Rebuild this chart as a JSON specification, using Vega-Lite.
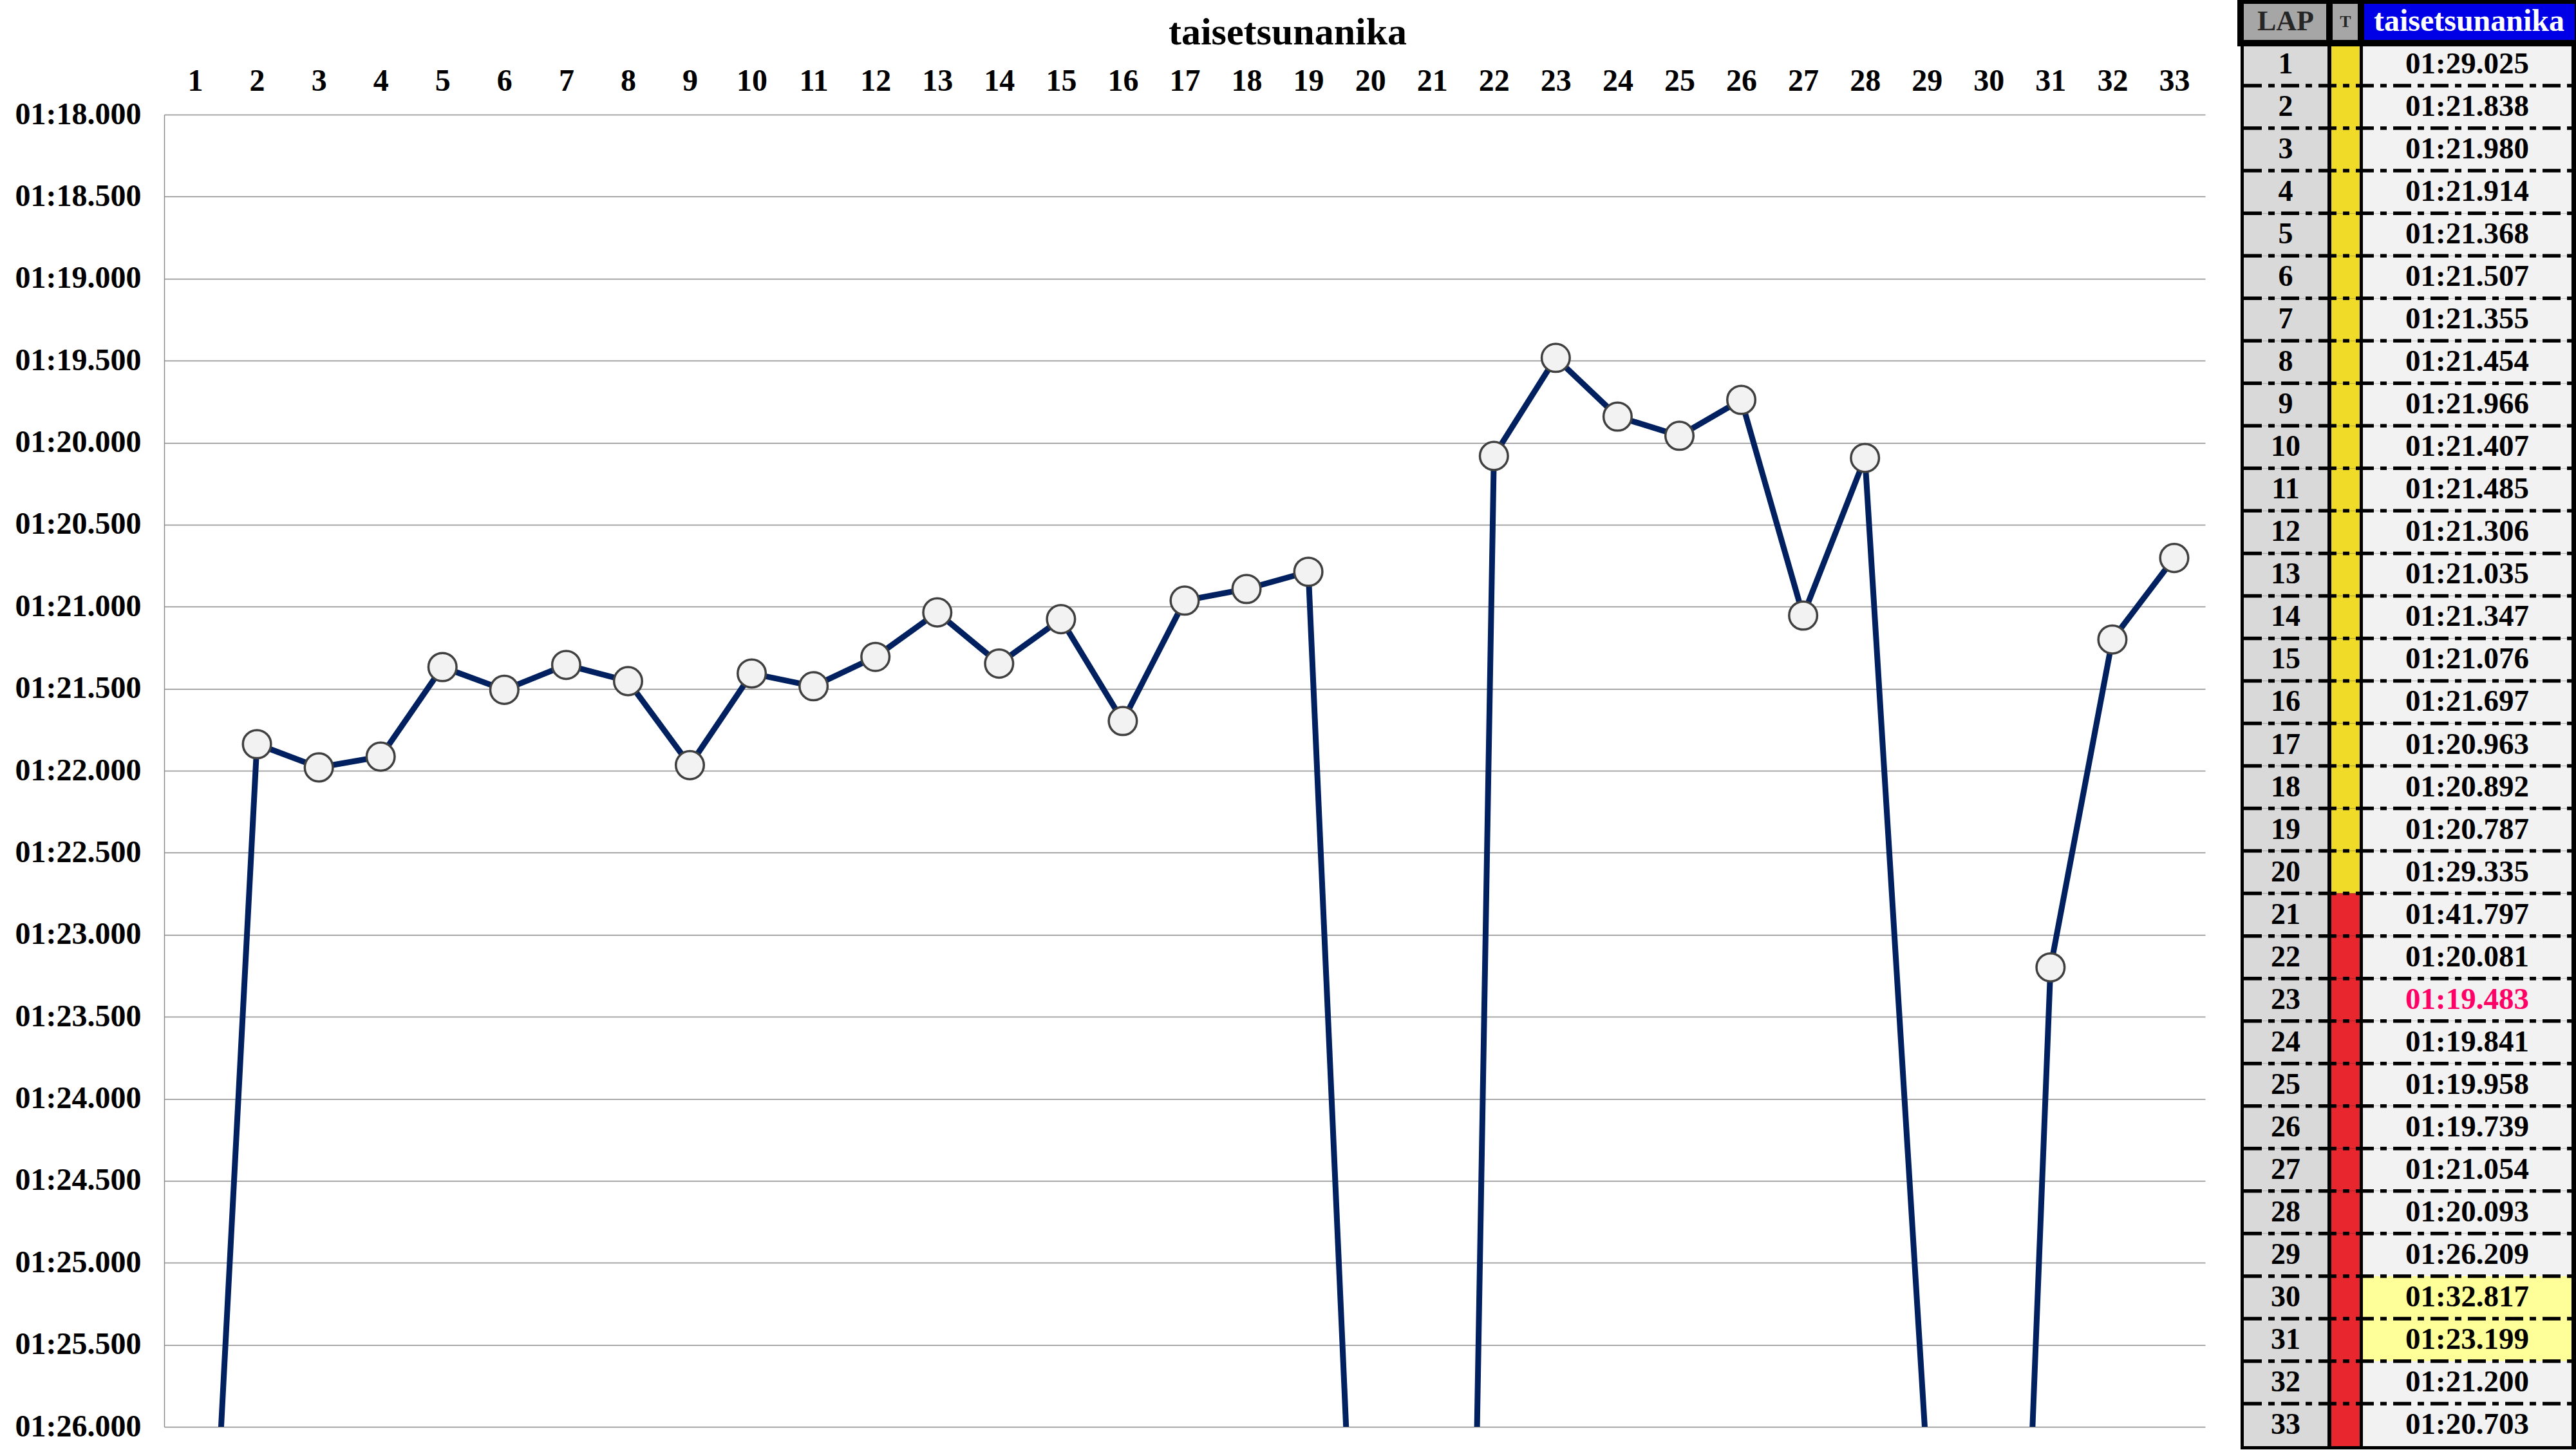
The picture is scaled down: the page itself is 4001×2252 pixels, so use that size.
{
  "$schema": "https://vega.github.io/schema/vega-lite/v6.json",
  "width": 3170,
  "height": 2038,
  "autosize": {"type": "none"},
  "padding": {"left": 255, "top": 178, "right": 576, "bottom": 36},
  "background": "white",
  "config": {"view": {"stroke": null}, "font": "Liberation Serif"},
  "title": {"text": "taisetsunanika", "font": "Liberation Serif", "fontSize": 60, "fontWeight": "bold", "color": "black", "anchor": "middle", "frame": "group", "dx": 160, "offset": -86},
  "datasets": {
    "laps": [
      {"lap": 1, "time": 89.025, "laptime": "01:29.025", "tyre": "M"},
      {"lap": 2, "time": 81.838, "laptime": "01:21.838", "tyre": "M"},
      {"lap": 3, "time": 81.980, "laptime": "01:21.980", "tyre": "M"},
      {"lap": 4, "time": 81.914, "laptime": "01:21.914", "tyre": "M"},
      {"lap": 5, "time": 81.368, "laptime": "01:21.368", "tyre": "M"},
      {"lap": 6, "time": 81.507, "laptime": "01:21.507", "tyre": "M"},
      {"lap": 7, "time": 81.355, "laptime": "01:21.355", "tyre": "M"},
      {"lap": 8, "time": 81.454, "laptime": "01:21.454", "tyre": "M"},
      {"lap": 9, "time": 81.966, "laptime": "01:21.966", "tyre": "M"},
      {"lap": 10, "time": 81.407, "laptime": "01:21.407", "tyre": "M"},
      {"lap": 11, "time": 81.485, "laptime": "01:21.485", "tyre": "M"},
      {"lap": 12, "time": 81.306, "laptime": "01:21.306", "tyre": "M"},
      {"lap": 13, "time": 81.035, "laptime": "01:21.035", "tyre": "M"},
      {"lap": 14, "time": 81.347, "laptime": "01:21.347", "tyre": "M"},
      {"lap": 15, "time": 81.076, "laptime": "01:21.076", "tyre": "M"},
      {"lap": 16, "time": 81.697, "laptime": "01:21.697", "tyre": "M"},
      {"lap": 17, "time": 80.963, "laptime": "01:20.963", "tyre": "M"},
      {"lap": 18, "time": 80.892, "laptime": "01:20.892", "tyre": "M"},
      {"lap": 19, "time": 80.787, "laptime": "01:20.787", "tyre": "M"},
      {"lap": 20, "time": 89.335, "laptime": "01:29.335", "tyre": "M"},
      {"lap": 21, "time": 101.797, "laptime": "01:41.797", "tyre": "S"},
      {"lap": 22, "time": 80.081, "laptime": "01:20.081", "tyre": "S"},
      {"lap": 23, "time": 79.483, "laptime": "01:19.483", "tyre": "S", "best": true},
      {"lap": 24, "time": 79.841, "laptime": "01:19.841", "tyre": "S"},
      {"lap": 25, "time": 79.958, "laptime": "01:19.958", "tyre": "S"},
      {"lap": 26, "time": 79.739, "laptime": "01:19.739", "tyre": "S"},
      {"lap": 27, "time": 81.054, "laptime": "01:21.054", "tyre": "S"},
      {"lap": 28, "time": 80.093, "laptime": "01:20.093", "tyre": "S"},
      {"lap": 29, "time": 86.209, "laptime": "01:26.209", "tyre": "S"},
      {"lap": 30, "time": 92.817, "laptime": "01:32.817", "tyre": "S", "hl": true},
      {"lap": 31, "time": 83.199, "laptime": "01:23.199", "tyre": "S", "hl": true},
      {"lap": 32, "time": 81.200, "laptime": "01:21.200", "tyre": "S"},
      {"lap": 33, "time": 80.703, "laptime": "01:20.703", "tyre": "S"}
    ]
  },
  "data": {"name": "laps"},
  "layer": [
    {
      "encoding": {
        "x": {"field": "lap", "type": "quantitative",
          "scale": {"domain": [0.5, 33.5], "nice": false, "zero": false},
          "axis": {"orient": "top", "values": [1,2,3,4,5,6,7,8,9,10,11,12,13,14,15,16,17,18,19,20,21,22,23,24,25,26,27,28,29,30,31,32,33],
            "grid": false, "domain": false, "ticks": false, "title": null,
            "labelFont": "Liberation Serif", "labelFontWeight": "bold", "labelFontSize": 48, "labelColor": "black",
            "labelPadding": 28, "labelFlush": false, "labelOverlap": false, "labelLimit": 0}},
        "y": {"field": "time", "type": "quantitative",
          "scale": {"domain": [78, 86], "reverse": true, "nice": false, "zero": false},
          "axis": {"values": [78,78.5,79,79.5,80,80.5,81,81.5,82,82.5,83,83.5,84,84.5,85,85.5,86],
            "grid": true, "gridColor": "#8C8C8C", "gridWidth": 1.5,
            "domain": true, "domainColor": "#8C8C8C", "domainWidth": 1.5,
            "ticks": false, "title": null,
            "labelExpr": "'0' + floor(datum.value / 60) + ':' + format(datum.value % 60, '06.3f')",
            "labelFont": "Liberation Serif", "labelFontWeight": "bold", "labelFontSize": 48, "labelColor": "black",
            "labelPadding": 36, "labelFlush": false, "labelOverlap": false, "labelLimit": 0}}
      },
      "layer": [
        {"data": {"values": [{"frame": 1}]},
          "mark": {"type": "rect", "fill": "white", "fillOpacity": 0, "stroke": "#878787", "strokeWidth": 5},
          "encoding": {"x": {"datum": -2.1546, "type": "quantitative"}, "x2": {"datum": 39.496},
            "y": {"datum": 77.3013, "type": "quantitative"}, "y2": {"datum": 86.1413}}},
        {"mark": {"type": "line", "color": "#002060", "strokeWidth": 9, "clip": true}},
        {"mark": {"type": "point", "shape": "circle", "filled": true, "fill": "#F2F2F2", "stroke": "#404040", "strokeWidth": 3.5, "size": 1900, "opacity": 1, "fillOpacity": 1, "clip": true}}
      ]
    },
    {
      "encoding": {
        "y": {"field": "lap", "type": "ordinal",
          "scale": {"domain": [0,1,2,3,4,5,6,7,8,9,10,11,12,13,14,15,16,17,18,19,20,21,22,23,24,25,26,27,28,29,30,31,32,33], "range": [-177, 2068], "paddingInner": 0, "paddingOuter": 0},
          "axis": null}
      },
      "layer": [
        {"mark": {"type": "rect", "fill": "black", "stroke": "black", "strokeWidth": 10},
          "encoding": {"x": {"datum": 5, "type": "quantitative", "scale": {"domain": [0, 521], "range": [3225, 3746], "nice": false, "zero": false}, "axis": null}, "x2": {"datum": 516}}},
        {"mark": {"type": "rect", "fill": "#D9D9D9"},
          "encoding": {"x": {"datum": 5, "type": "quantitative", "scale": {"domain": [0, 521], "range": [3225, 3746], "nice": false, "zero": false}, "axis": null}, "x2": {"datum": 135}}},
        {"mark": {"type": "rect"},
          "encoding": {"x": {"datum": 141, "type": "quantitative", "scale": {"domain": [0, 521], "range": [3225, 3746], "nice": false, "zero": false}, "axis": null}, "x2": {"datum": 185},
            "fill": {"field": "tyre", "type": "nominal", "scale": {"domain": ["M", "S"], "range": ["#F0DC28", "#E8262E"]}, "legend": null}}},
        {"mark": {"type": "rect"},
          "encoding": {"x": {"datum": 190, "type": "quantitative", "scale": {"domain": [0, 521], "range": [3225, 3746], "nice": false, "zero": false}, "axis": null}, "x2": {"datum": 514},
            "fill": {"condition": {"test": "datum.hl", "value": "#FFFF99"}, "value": "#F2F2F2"}}},
        {"transform": [{"filter": "datum.lap < 33"}],
          "mark": {"type": "rule", "color": "black", "strokeWidth": 5.5, "strokeDash": [28, 10, 10, 10]},
          "encoding": {"y": {"field": "lap", "type": "ordinal", "bandPosition": 1},
            "x": {"datum": 5, "type": "quantitative", "scale": {"domain": [0, 521], "range": [3225, 3746], "nice": false, "zero": false}, "axis": null}, "x2": {"datum": 514}}},
        {"mark": {"type": "text", "font": "Liberation Serif", "fontWeight": "bold", "fontSize": 46, "color": "black"},
          "encoding": {"x": {"datum": 70, "type": "quantitative", "scale": {"domain": [0, 521], "range": [3225, 3746], "nice": false, "zero": false}, "axis": null},
            "text": {"field": "lap", "type": "ordinal"}}},
        {"mark": {"type": "text", "font": "Liberation Serif", "fontWeight": "bold", "fontSize": 47},
          "encoding": {"x": {"datum": 352, "type": "quantitative", "scale": {"domain": [0, 521], "range": [3225, 3746], "nice": false, "zero": false}, "axis": null},
            "text": {"field": "laptime", "type": "nominal"},
            "color": {"condition": {"test": "datum.best", "value": "#FF0066"}, "value": "black"}}},
        {"data": {"values": [{"lap": 0, "h": "LAP"}]},
          "mark": {"type": "rect", "fill": "#A6A6A6", "stroke": "black", "strokeWidth": 10},
          "encoding": {"x": {"datum": 0, "type": "quantitative", "scale": {"domain": [0, 521], "range": [3225, 3746], "nice": false, "zero": false}, "axis": null}, "x2": {"datum": 139}}},
        {"data": {"values": [{"lap": 0, "h": "T"}]},
          "mark": {"type": "rect", "fill": "#A6A6A6", "stroke": "black", "strokeWidth": 10},
          "encoding": {"x": {"datum": 138, "type": "quantitative", "scale": {"domain": [0, 521], "range": [3225, 3746], "nice": false, "zero": false}, "axis": null}, "x2": {"datum": 188}}},
        {"data": {"values": [{"lap": 0, "h": "taisetsunanika"}]},
          "mark": {"type": "rect", "fill": "#0000E6", "stroke": "black", "strokeWidth": 10},
          "encoding": {"x": {"datum": 187, "type": "quantitative", "scale": {"domain": [0, 521], "range": [3225, 3746], "nice": false, "zero": false}, "axis": null}, "x2": {"datum": 524}}},
        {"data": {"values": [{"lap": 0, "h": "LAP"}]},
          "mark": {"type": "text", "font": "Liberation Serif", "fontWeight": "bold", "fontSize": 44, "color": "#262626"},
          "encoding": {"x": {"datum": 70, "type": "quantitative", "scale": {"domain": [0, 521], "range": [3225, 3746], "nice": false, "zero": false}, "axis": null},
            "text": {"field": "h", "type": "nominal"}}},
        {"data": {"values": [{"lap": 0, "h": "T"}]},
          "mark": {"type": "text", "font": "Liberation Serif", "fontWeight": "bold", "fontSize": 26, "color": "#262626"},
          "encoding": {"x": {"datum": 163, "type": "quantitative", "scale": {"domain": [0, 521], "range": [3225, 3746], "nice": false, "zero": false}, "axis": null},
            "text": {"field": "h", "type": "nominal"}}},
        {"data": {"values": [{"lap": 0, "h": "taisetsunanika"}]},
          "mark": {"type": "text", "font": "Liberation Serif", "fontWeight": "bold", "fontSize": 48, "color": "white"},
          "encoding": {"x": {"datum": 355, "type": "quantitative", "scale": {"domain": [0, 521], "range": [3225, 3746], "nice": false, "zero": false}, "axis": null},
            "text": {"field": "h", "type": "nominal"}}}
      ]
    }
  ],
  "resolve": {"scale": {"x": "independent", "y": "independent"}}
}
